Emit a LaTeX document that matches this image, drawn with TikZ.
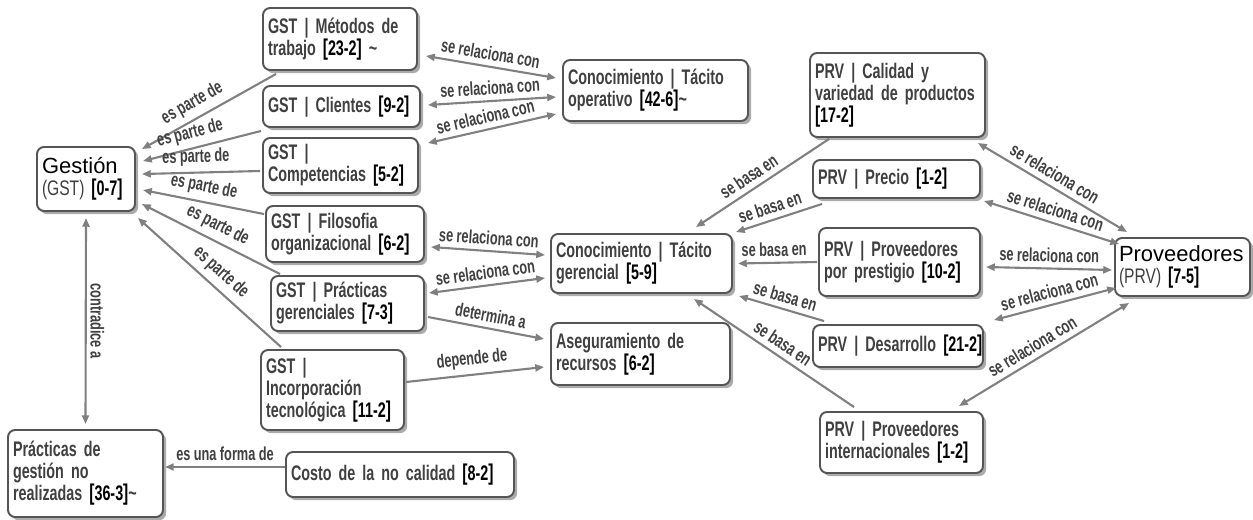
\documentclass[tikz,border=0pt]{standalone}
\usepackage{fontspec}
\setmainfont{Liberation Sans}[UprightFont=* Bold, BoldFont=* Bold, FakeStretch=0.68, WordSpace=0.75]
\newfontfamily\headfont{Liberation Sans}
\newfontfamily\lightfont{Liberation Sans}[FakeStretch=0.74]
\newfontfamily\labelfont{Liberation Sans}[UprightFont=* Bold, FakeStretch=0.68, WordSpace=0.95]
\usetikzlibrary{arrows.meta, calc, shadows}
\definecolor{linegray}{HTML}{808080}
\definecolor{boxgray}{HTML}{555555}
\definecolor{textgray}{HTML}{404040}
\hyphenpenalty=10000
\exhyphenpenalty=10000

% bracketed counts [a-b]
\newcommand{\cnt}[1]{\mbox{\color{black}{\fontsize{13}{12}\selectfont[}#1{\fontsize{13}{12}\selectfont]}}}

\tikzset{
  conceptbox/.style={rectangle, rounded corners=4pt, draw=boxgray, line width=1.1pt, fill=white,
    drop shadow={shadow xshift=1.8pt, shadow yshift=-1.8pt, fill=black!55, opacity=.6},
    align=left, inner xsep=0.1cm, inner ysep=2pt, text=textgray,
    font=\fontsize{12}{12.5}\selectfont},
  link/.style={draw=linegray, line width=1.2pt},
  linklabel/.style={font=\labelfont\fontsize{10.7}{11}\selectfont, text=textgray, sloped, above=1.5pt, inner sep=1.5pt}
}

\begin{document}
\begin{tikzpicture}[x=0.02cm, y=-0.02cm, >={Triangle[length=5pt, width=4pt]}]
\useasboundingbox (0,0) rectangle (1253,520);

% Gestion side
\node[conceptbox, minimum width=1.96cm, minimum height=1.28cm, text width=1.76cm] (gestion) at (86,179)
  {{\headfont\fontsize{12.5}{14}\selectfont\color{black}Gestión}\\{\lightfont(GST)}~\cnt{0-7}};
\node[conceptbox, minimum width=3.08cm, minimum height=1.24cm, text width=2.88cm] (metodos) at (340,39)
  {GST~|~Métodos~de\\trabajo~\cnt{23-2}~\textasciitilde};
\node[conceptbox, minimum width=3.14cm, minimum height=0.82cm, text width=2.94cm] (clientes) at (341.5,106.5)
  {GST~|~Clientes~\cnt{9-2}};
\node[conceptbox, minimum width=3.10cm, minimum height=1.10cm, text width=2.90cm] (compet) at (340.5,165.5)
  {GST~|\\Competencias~\cnt{5-2}};
\node[conceptbox, minimum width=3.16cm, minimum height=1.12cm, text width=2.96cm] (filos) at (345,234)
  {GST~|~Filosofia\\organizacional~\cnt{6-2}};
\node[conceptbox, minimum width=3.06cm, minimum height=1.10cm, text width=2.86cm] (practicas) at (347.5,303.5)
  {GST~|~Prácticas\\gerenciales~\cnt{7-3}};
\node[conceptbox, minimum width=2.86cm, minimum height=1.60cm, text width=2.66cm] (incorp) at (332.5,390)
  {GST~|\\Incorporación\\tecnológica~\cnt{11-2}};
\node[conceptbox, minimum width=3.10cm, minimum height=1.74cm, text width=2.90cm] (noreal) at (85.5,473.5)
  {Prácticas~de\\gestión~no\\realizadas~\cnt{36-3}\textasciitilde};
\node[conceptbox, minimum width=4.56cm, minimum height=0.90cm, text width=4.36cm] (costo) at (400,474.5)
  {Costo~de~la~no~calidad~\cnt{8-2}};

% middle
\node[conceptbox, minimum width=3.70cm, minimum height=1.22cm, text width=3.50cm] (operativo) at (655.5,90.5)
  {Conocimiento~|~Tácito\\operativo~\cnt{42-6}\textasciitilde};
\node[conceptbox, minimum width=3.62cm, minimum height=1.18cm, text width=3.42cm] (gerencial) at (641.5,263.5)
  {Conocimiento~|~Tácito\\gerencial~\cnt{5-9}};
\node[conceptbox, minimum width=3.58cm, minimum height=1.24cm, text width=3.38cm] (asegur) at (640.5,354)
  {Aseguramiento~de\\recursos~\cnt{6-2}};

% Proveedores side
\node[conceptbox, minimum width=3.50cm, minimum height=1.68cm, text width=3.30cm] (calidad) at (897.5,95)
  {PRV~|~Calidad~y\\variedad~de~productos\\\cnt{17-2}};
\node[conceptbox, minimum width=3.34cm, minimum height=0.76cm, text width=3.14cm] (precio) at (896.5,179)
  {PRV~|~Precio~\cnt{1-2}};
\node[conceptbox, minimum width=3.22cm, minimum height=1.36cm, text width=3.02cm] (prestigio) at (899.5,262)
  {PRV~|~Proveedores\\por~prestigio~\cnt{10-2}};
\node[conceptbox, minimum width=3.40cm, minimum height=0.84cm, text width=3.20cm] (desarrollo) at (898,346)
  {PRV~|~Desarrollo~\cnt{21-2}};
\node[conceptbox, minimum width=3.26cm, minimum height=1.22cm, text width=3.06cm] (internac) at (901.5,442.5)
  {PRV~|~Proveedores\\internacionales~\cnt{1-2}};
\node[conceptbox, minimum width=2.70cm, minimum height=1.16cm, text width=2.54cm, inner xsep=0.08cm] (proveed) at (1182.5,267)
  {{\headfont\fontsize{12.5}{14}\selectfont\color{black}Proveedores}\\{\lightfont(PRV)}~\cnt{7-5}};

% es parte de
\draw[link, ->] ($(metodos.south west)+(14,3)$) -- node[linklabel, pos=.57] {es parte de} ($(gestion.north east)+(6,3)$);
\draw[link, ->] ($(clientes.south west)+(-1,3)$) -- node[linklabel, pos=.57] {es parte de} ($(gestion.north east)+(7,15)$);
\draw[link, ->] ($(compet.west)+(-2,5.5)$) -- node[linklabel, pos=.54] {es parte de} ($(gestion.north east)+(6,28)$);
\draw[link, ->] ($(filos.north west)+(-1,9)$) -- node[linklabel, pos=.52] {es parte de} ($(gestion.north east)+(7,44)$);
\draw[link, ->] ($(practicas.north west)+(10,-1)$) -- node[linklabel, pos=.5] {es parte de} ($(gestion.north east)+(6,58)$);
\draw[link, ->] ($(incorp.north west)+(21,-2)$) -- node[linklabel, pos=.49] {es parte de} ($(gestion.south east)+(2,6)$);

% se relaciona con (left)
\draw[link, <->] ($(metodos.south east)+(8,-15)$) -- node[linklabel, pos=.48] {se relaciona con} ($(operativo.west)+(-6,-12.5)$);
\draw[link, <->] ($(clientes.east)+(7,-1.5)$) -- node[linklabel, pos=.49] {se relaciona con} ($(operativo.west)+(-6,6.5)$);
\draw[link, <->] ($(compet.north east)+(9,6)$) -- node[linklabel, pos=.47] {se relaciona con} ($(operativo.west)+(-6,23.5)$);
\draw[link, <->] ($(filos.east)+(6,13)$) -- node[linklabel] {se relaciona con} ($(gerencial.west)+(-5,-8.5)$);
\draw[link, <->] ($(practicas.east)+(4,-10.5)$) -- node[linklabel] {se relaciona con} ($(gerencial.west)+(-5,14.5)$);
\draw[link, ->] ($(practicas.east)+(3,13.5)$) -- node[linklabel, pos=.52] {determina a} ($(asegur.west)+(-6,-15)$);
\draw[link, ->] ($(incorp.east)+(1,-8)$) -- node[linklabel, pos=.49] {depende de} ($(asegur.west)+(-6,13)$);

% contradice / forma
\draw[link, <->] ($(gestion.south)+(0,6)$) -- node[midway, rotate=-90, anchor=south, inner sep=2pt, font=\labelfont\fontsize{10.7}{11}\selectfont, text=textgray] {contradice a} ($(noreal.north)+(0,-5)$);
\draw[link, ->] ($(costo.west)+(0,-7.5)$) -- node[linklabel] {es una forma de} ($(noreal.east)+(1,-6.5)$);

% se basa en
\draw[link, ->] ($(calidad.south west)+(20,1)$) -- node[linklabel, pos=.55] {se basa en} ($(gerencial.north east)+(-37,-6)$);
\draw[link, ->] ($(precio.south west)+(10,5)$) -- node[linklabel, pos=.56] {se basa en} ($(gerencial.north east)+(3,-1)$);
\draw[link, ->] ($(prestigio.west)+(-1,0)$) -- node[linklabel, pos=.54] {se basa en} ($(gerencial.east)+(5,0)$);
\draw[link, ->] ($(desarrollo.north west)+(12,-3)$) -- node[linklabel] {se basa en} ($(gerencial.south east)+(6,2)$);
\draw[link, ->] ($(internac.north west)+(35,-4)$) -- node[linklabel, pos=.49] {se basa en} ($(gerencial.south east)+(-39,5)$);

% se relaciona con (right)
\draw[link, <->] ($(calidad.south east)+(-8,5)$) -- node[linklabel, pos=.47] {se relaciona con} ($(proveed.north west)+(13,-5)$);
\draw[link, <->] ($(precio.south east)+(3,2)$) -- node[linklabel, pos=.5] {se relaciona con} ($(proveed.north west)+(5,7)$);
\draw[link, <->] ($(prestigio.east)+(5,5)$) -- node[linklabel] {se relaciona con} ($(proveed.west)+(-2,3)$);
\draw[link, <->] ($(desarrollo.north east)+(10,-4)$) -- node[linklabel, pos=.48] {se relaciona con} ($(proveed.south west)+(2,-9)$);
\draw[link, <->] ($(internac.north east)+(-25,-5)$) -- node[linklabel, pos=.47] {se relaciona con} ($(proveed.south west)+(15,6)$);
\end{tikzpicture}
\end{document}
